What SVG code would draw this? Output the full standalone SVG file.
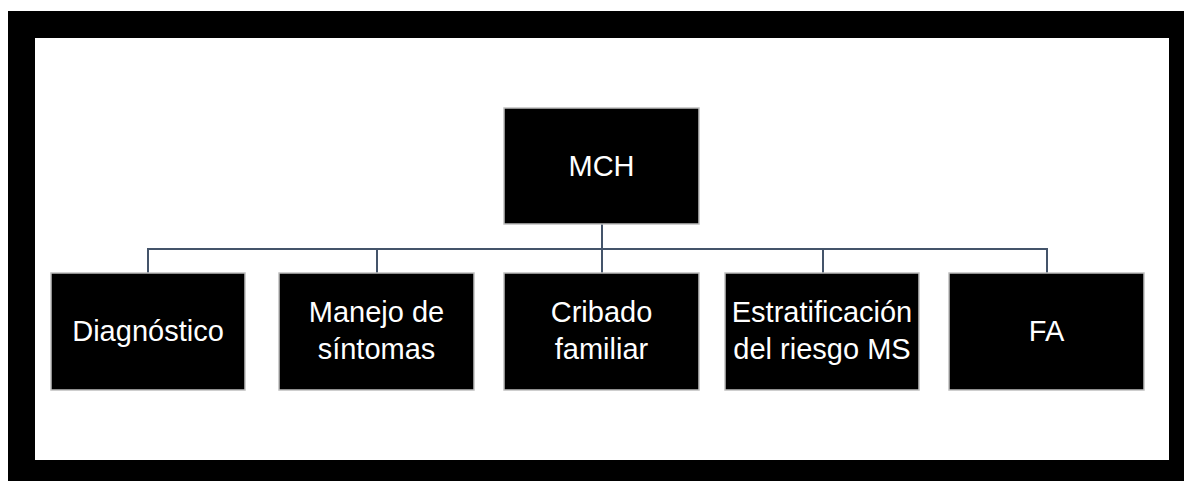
<svg xmlns="http://www.w3.org/2000/svg" width="1184" height="481" viewBox="0 0 1184 481">
  <style>
    .box { fill: #000000; stroke: #bfbfbf; stroke-width: 1.5; }
    .lbl { fill: #ffffff; font-family: "Liberation Sans", Arial, sans-serif; font-size: 29px; text-anchor: middle; }
    .conn { fill: none; stroke: #44546a; stroke-width: 2; }
  </style>
  <rect x="0" y="0" width="1184" height="481" fill="#ffffff"/>
  <rect x="8" y="11" width="1176" height="470" fill="#000000"/>
  <rect x="35" y="38" width="1134" height="422" fill="#ffffff"/>
  <g id="connectors">
    <path class="conn" d="M602 224 V249"/>
    <path class="conn" d="M148 273 V249 H1047 V273"/>
    <path class="conn" d="M377 249 V273"/>
    <path class="conn" d="M602 249 V273"/>
    <path class="conn" d="M823 249 V273"/>
  </g>
  <g id="node-mch">
    <rect class="box" x="504" y="108" width="195" height="116"/>
    <text class="lbl" x="601.5" y="176">MCH</text>
  </g>
  <g id="node-diagnostico">
    <rect class="box" x="51" y="273" width="194" height="117"/>
    <text class="lbl" x="148" y="341">Diagnóstico</text>
  </g>
  <g id="node-manejo">
    <rect class="box" x="279" y="273" width="195" height="117"/>
    <text class="lbl" x="376.5" y="322">Manejo de</text>
    <text class="lbl" x="376.5" y="359">síntomas</text>
  </g>
  <g id="node-cribado">
    <rect class="box" x="504" y="273" width="195" height="117"/>
    <text class="lbl" x="601.5" y="322">Cribado</text>
    <text class="lbl" x="601.5" y="359">familiar</text>
  </g>
  <g id="node-estratificacion">
    <rect class="box" x="725" y="273" width="194" height="117"/>
    <text class="lbl" x="822" y="322">Estratificación</text>
    <text class="lbl" x="822" y="359">del riesgo MS</text>
  </g>
  <g id="node-fa">
    <rect class="box" x="949" y="273" width="195" height="117"/>
    <text class="lbl" x="1046.5" y="341">FA</text>
  </g>
</svg>
